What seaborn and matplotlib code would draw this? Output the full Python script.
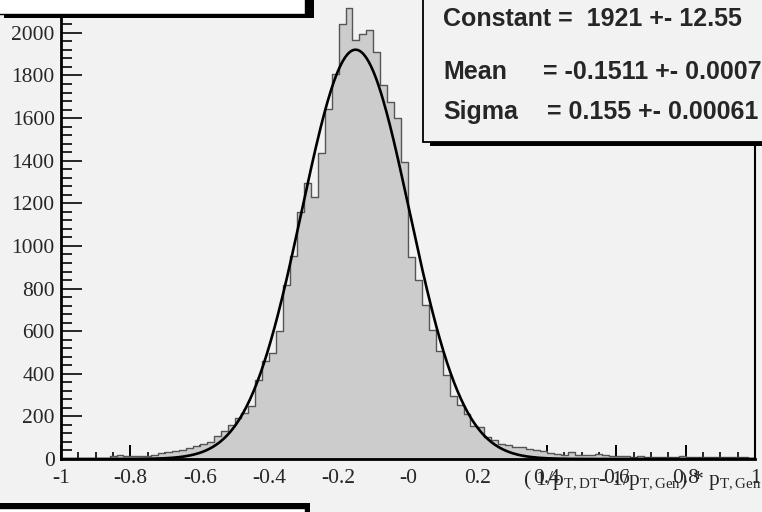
import numpy as np
import pandas as pd
import matplotlib
matplotlib.use("Agg")
import matplotlib.pyplot as plt
import seaborn as sns
from matplotlib.patches import Rectangle
from matplotlib.ticker import MultipleLocator

# histogram: 100 bins of width 0.02 between -1 and 1
bin_width = 0.02
bin_range = (-1, 1)
counts = [
    0, 0, 0, 0, 0, 0, 0, 15, 20, 12,
    12, 12, 12, 20, 30, 35, 38, 44, 50, 60,
    70, 78, 108, 132, 161, 191, 218, 248, 372, 458,
    497, 599, 819, 952, 1160, 1296, 1229, 1437, 1641, 1806,
    2041, 2116, 1966, 1997, 2013, 1912, 1755, 1676, 1602, 1395,
    947, 842, 725, 607, 508, 396, 295, 254, 212, 155,
    150, 104, 90, 72, 68, 57, 54, 45, 42, 36,
    26, 24, 20, 31, 20, 17, 17, 24, 17, 12,
    12, 12, 11, 12, 10, 8, 8, 8, 8, 12,
    8, 8, 8, 8, 8, 8, 8, 8, 8, 6,
]

# gaussian fit result shown in the stats box
fit_constant = 1921
fit_mean = -0.1511
fit_sigma = 0.155

x_ticks = [-1, -0.8, -0.6, -0.4, -0.2, 0, 0.2, 0.4, 0.6, 0.8, 1]
x_tick_labels = ["-1", "-0.8", "-0.6", "-0.4", "-0.2", "-0", "0.2", "0.4", "0.6", "0.8", "1"]
y_ticks = [0, 200, 400, 600, 800, 1000, 1200, 1400, 1600, 1800, 2000]

bg = "#f2f2f2"
W, H = 762, 512

sns.set_style("ticks")
plt.rcParams["font.family"] = ["Liberation Serif", "DejaVu Serif"]
plt.rcParams["mathtext.fontset"] = "custom"
plt.rcParams["mathtext.rm"] = "Liberation Serif"
plt.rcParams["mathtext.it"] = "Liberation Serif:italic"

fig = plt.figure(figsize=(W / 100, H / 100), dpi=100, facecolor=bg)
ax = fig.add_axes([61 / W, 53 / H, 694 / W, 473 / H])
ax.set_facecolor(bg)

centers = bin_range[0] + bin_width * (np.arange(len(counts)) + 0.5)
df = pd.DataFrame({"x": centers, "n": counts})
sns.histplot(data=df, x="x", weights="n", binwidth=bin_width, binrange=bin_range,
             element="step", fill=True, color="#cccccc", alpha=1,
             edgecolor="#555555", linewidth=1.0, ax=ax)

xs = np.linspace(-1, 1, 600)
ys = fit_constant * np.exp(-0.5 * ((xs - fit_mean) / fit_sigma) ** 2)
sns.lineplot(x=xs, y=ys, color="black", linewidth=1.9, ax=ax)

ax.set_xlim(-1, 1)
ax.set_ylim(0, 2220)
ax.set_xlabel("")
ax.set_ylabel("")

ax.set_xticks(x_ticks)
ax.set_xticklabels(x_tick_labels)
ax.set_yticks(y_ticks)
ax.set_yticklabels([str(v) for v in y_ticks])
ax.xaxis.set_minor_locator(MultipleLocator(0.05))
ax.yaxis.set_minor_locator(MultipleLocator(40))

ax.tick_params(axis="x", which="major", direction="in", length=10, width=1.4,
               labelsize=15.5, pad=7, color="black")
ax.tick_params(axis="x", which="minor", direction="in", length=5, width=1.4)
ax.tick_params(axis="y", which="major", direction="in", length=15, width=1.4,
               labelsize=15.5, pad=4.5)
ax.tick_params(axis="y", which="minor", direction="in", length=8, width=1.4)

for side in ["left", "bottom"]:
    ax.spines[side].set_linewidth(2.0)
ax.spines["right"].set_linewidth(1.5)
ax.spines["top"].set_linewidth(1.5)
for sp in ax.spines.values():
    sp.set_color("black")


def px_rect(x0, y0, x1, y1, **kw):
    # rectangle given in picture pixels (y measured from the top)
    r = Rectangle((x0 / W, 1 - y1 / H), (x1 - x0) / W, (y1 - y0) / H,
                  transform=fig.transFigure, **kw)
    fig.patches.append(r)


# title box (top left) with shadow
px_rect(4, -10, 314, 17.5, facecolor="black", edgecolor="none", zorder=5)
px_rect(-10, -10, 305, 13.5, facecolor="white", edgecolor="black", linewidth=1.0, zorder=6)

# box at the bottom left
px_rect(0, 503, 310, 530, facecolor="black", edgecolor="none", zorder=5)
px_rect(-10, 508, 305, 530, facecolor="white", edgecolor="black", linewidth=1.0, zorder=6)

# stats box with shadow
px_rect(430, -10, 780, 146, facecolor="black", edgecolor="none", zorder=5)
px_rect(422.5, -10, 775, 141.5, facecolor=bg, edgecolor="black", linewidth=1.3, zorder=6)

stat_kw = dict(fontsize=18, fontweight="bold", family=["Liberation Sans", "DejaVu Sans"],
               va="baseline", ha="left", zorder=7)
fig.text(443 / W, 1 - 26 / H, "Constant =  1921 +- 12.55", **stat_kw)
fig.text(443 / W, 1 - 79 / H, "Mean", **stat_kw)
fig.text(543 / W, 1 - 79 / H, "= -0.1511 +- 0.0007", **stat_kw)
fig.text(443 / W, 1 - 119 / H, "Sigma", **stat_kw)
fig.text(547 / W, 1 - 119 / H, "= 0.155 +- 0.00061", **stat_kw)

# axis title at the bottom right
fig.text(761 / W, 1 - 485 / H,
         r"( 1/p$_{\mathrm{T,DT}}$- 1/p$_{\mathrm{T,Gen}}$) * p$_{\mathrm{T,Gen}}$",
         fontsize=15.5, ha="right", va="baseline", family="Liberation Serif", zorder=7)

fig.savefig("out.png", dpi=100, facecolor=bg)
